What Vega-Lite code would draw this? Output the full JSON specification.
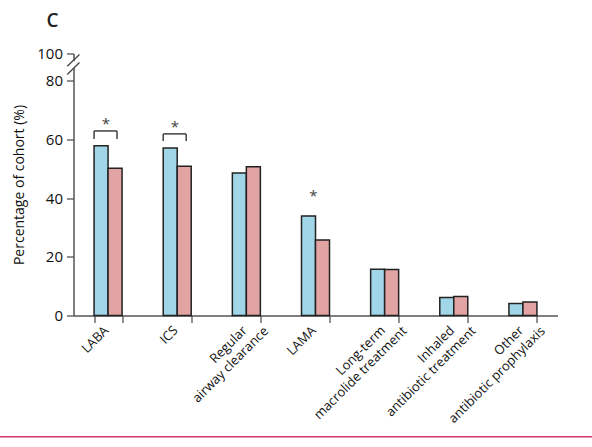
{
  "$schema": "https://vega.github.io/schema/vega-lite/v6.json",
  "width": 484,
  "height": 262,
  "autosize": {"type": "none"},
  "padding": {"left": 73.5, "top": 53.5, "right": 34.5, "bottom": 131.5},
  "background": "white",
  "title": {
    "text": "C",
    "anchor": "start",
    "frame": "group",
    "fontSize": 19,
    "fontWeight": 600,
    "color": "#222222",
    "dx": -27,
    "offset": 16
  },
  "config": {
    "view": {"stroke": null},
    "font": "Open Sans",
    "axis": {
      "domainColor": "#555555",
      "tickColor": "#555555",
      "domainWidth": 1.5,
      "tickWidth": 1.3,
      "tickSize": 7,
      "labelColor": "#111111",
      "titleColor": "#111111",
      "grid": false
    }
  },
  "resolve": {"axis": {"x": "independent"}},
  "datasets": {
    "usage": [
      {"treatment": "LABA", "group": "A", "pct": 57.9},
      {"treatment": "LABA", "group": "B", "pct": 50.2},
      {"treatment": "ICS", "group": "A", "pct": 57.1},
      {"treatment": "ICS", "group": "B", "pct": 50.9},
      {"treatment": "Regular\nairway clearance", "group": "A", "pct": 48.6},
      {"treatment": "Regular\nairway clearance", "group": "B", "pct": 50.7},
      {"treatment": "LAMA", "group": "A", "pct": 33.9},
      {"treatment": "LAMA", "group": "B", "pct": 25.7},
      {"treatment": "Long-term\nmacrolide treatment", "group": "A", "pct": 15.8},
      {"treatment": "Long-term\nmacrolide treatment", "group": "B", "pct": 15.7},
      {"treatment": "Inhaled\nantibiotic treatment", "group": "A", "pct": 6.1},
      {"treatment": "Inhaled\nantibiotic treatment", "group": "B", "pct": 6.5},
      {"treatment": "Other\nantibiotic prophylaxis", "group": "A", "pct": 4.1},
      {"treatment": "Other\nantibiotic prophylaxis", "group": "B", "pct": 4.6}
    ],
    "brackets": [
      {"treatment": "LABA", "top": 62.9, "bottom": 60.2},
      {"treatment": "ICS", "top": 61.9, "bottom": 59.5}
    ],
    "stars": [
      {"treatment": "LABA", "level": 66.2},
      {"treatment": "ICS", "level": 65.2},
      {"treatment": "LAMA", "level": 41.8}
    ]
  },
  "layer": [
    {
      "data": {"name": "usage"},
      "mark": {"type": "bar", "stroke": "#222222", "strokeWidth": 1.5},
      "encoding": {
        "x": {
          "field": "treatment",
          "type": "nominal",
          "sort": null,
          "scale": {
            "domain": ["LABA", "ICS", "Regular\nairway clearance", "LAMA", "Long-term\nmacrolide treatment", "Inhaled\nantibiotic treatment", "Other\nantibiotic prophylaxis"],
            "paddingInner": 0.595,
            "paddingOuter": 0.2975
          },
          "axis": {
            "orient": "bottom",
            "title": null,
            "labelAngle": -45,
            "labelAlign": "right",
            "labelBaseline": "middle",
            "labelExpr": "split(datum.label, '\\n')[0]",
            "labelFontSize": 13,
            "labelOffset": -2,
            "labelPadding": 5.5,
            "tickBand": "extent"
          }
        },
        "xOffset": {
          "field": "group",
          "type": "nominal",
          "scale": {"paddingInner": 0, "paddingOuter": 0}
        },
        "y": {
          "field": "pct",
          "type": "quantitative",
          "scale": {"domain": [0, 89.3], "nice": false, "zero": true},
          "axis": {
            "title": "Percentage of cohort (%)",
            "values": [0, 20, 40, 60, 80, 89.3],
            "labelExpr": "datum.value > 85 ? '100' : datum.label",
            "labelFontSize": 15,
            "labelPadding": 4,
            "titleFontSize": 14,
            "titleFontWeight": "normal",
            "titlePadding": 10
          }
        },
        "color": {
          "field": "group",
          "type": "nominal",
          "scale": {"range": ["#a0d6e7", "#e2a4a2"]},
          "legend": null
        }
      }
    },
    {
      "data": {"name": "brackets"},
      "mark": {"type": "rule", "stroke": "#333333", "strokeWidth": 1.4},
      "encoding": {
        "x": {"field": "treatment", "type": "nominal", "bandPosition": 0.0, "axis": null},
        "y": {"field": "top", "type": "quantitative"},
        "y2": {"field": "bottom"}
      }
    },
    {
      "data": {"name": "brackets"},
      "mark": {"type": "rule", "stroke": "#333333", "strokeWidth": 1.4},
      "encoding": {
        "x": {"field": "treatment", "type": "nominal", "bandPosition": 0.82, "axis": null},
        "y": {"field": "top", "type": "quantitative"},
        "y2": {"field": "bottom"}
      }
    },
    {
      "data": {"name": "brackets"},
      "mark": {"type": "rule", "stroke": "#333333", "strokeWidth": 1.4},
      "encoding": {
        "x": {"field": "treatment", "type": "nominal", "bandPosition": 0.0, "axis": null},
        "x2": {"field": "treatment", "bandPosition": 0.82},
        "y": {"field": "top", "type": "quantitative"}
      }
    },
    {
      "data": {"name": "stars"},
      "mark": {"type": "text", "text": "*", "fontSize": 15, "color": "#444444", "baseline": "alphabetic", "dy": 8},
      "encoding": {
        "x": {
          "field": "treatment",
          "type": "nominal",
          "bandPosition": 0.42,
          "axis": {
            "orient": "bottom",
            "title": null,
            "domain": false,
            "tickOpacity": 0,
            "labelAngle": -45,
            "labelAlign": "right",
            "labelBaseline": "middle",
            "labelExpr": "indexof(datum.label, '\\n') >= 0 ? split(datum.label, '\\n')[1] : ''",
            "labelFontSize": 13,
            "labelOffset": 20,
            "labelPadding": 6
          }
        },
        "y": {"field": "level", "type": "quantitative"}
      }
    },
    {
      "data": {"values": [{}]},
      "mark": {"type": "rule", "stroke": "white", "strokeWidth": 5},
      "encoding": {
        "x": {"datum": "LABA", "bandPosition": -0.735, "axis": null},
        "y": {"datum": 84.5, "type": "quantitative"},
        "y2": {"datum": 86.7}
      }
    },
    {
      "data": {"values": [{}]},
      "mark": {"type": "rule", "stroke": "#444444", "strokeWidth": 1.3},
      "encoding": {
        "x": {"datum": "LABA", "bandPosition": -0.957, "axis": null},
        "x2": {"datum": "LABA", "bandPosition": -0.52},
        "y": {"datum": 84.97, "type": "quantitative"},
        "y2": {"datum": 88.96}
      }
    },
    {
      "data": {"values": [{}]},
      "mark": {"type": "rule", "stroke": "#444444", "strokeWidth": 1.3},
      "encoding": {
        "x": {"datum": "LABA", "bandPosition": -0.957, "axis": null},
        "x2": {"datum": "LABA", "bandPosition": -0.52},
        "y": {"datum": 82.15, "type": "quantitative"},
        "y2": {"datum": 86.24}
      }
    },
    {
      "data": {"values": [{}]},
      "mark": {"type": "rule", "stroke": "#d8336b", "strokeWidth": 1.5},
      "encoding": {
        "x": {"datum": "LABA", "bandPosition": -3.5, "axis": null},
        "x2": {"datum": "Other\nantibiotic prophylaxis", "bandPosition": 3},
        "y": {"datum": -41.3, "type": "quantitative"}
      }
    }
  ]
}
